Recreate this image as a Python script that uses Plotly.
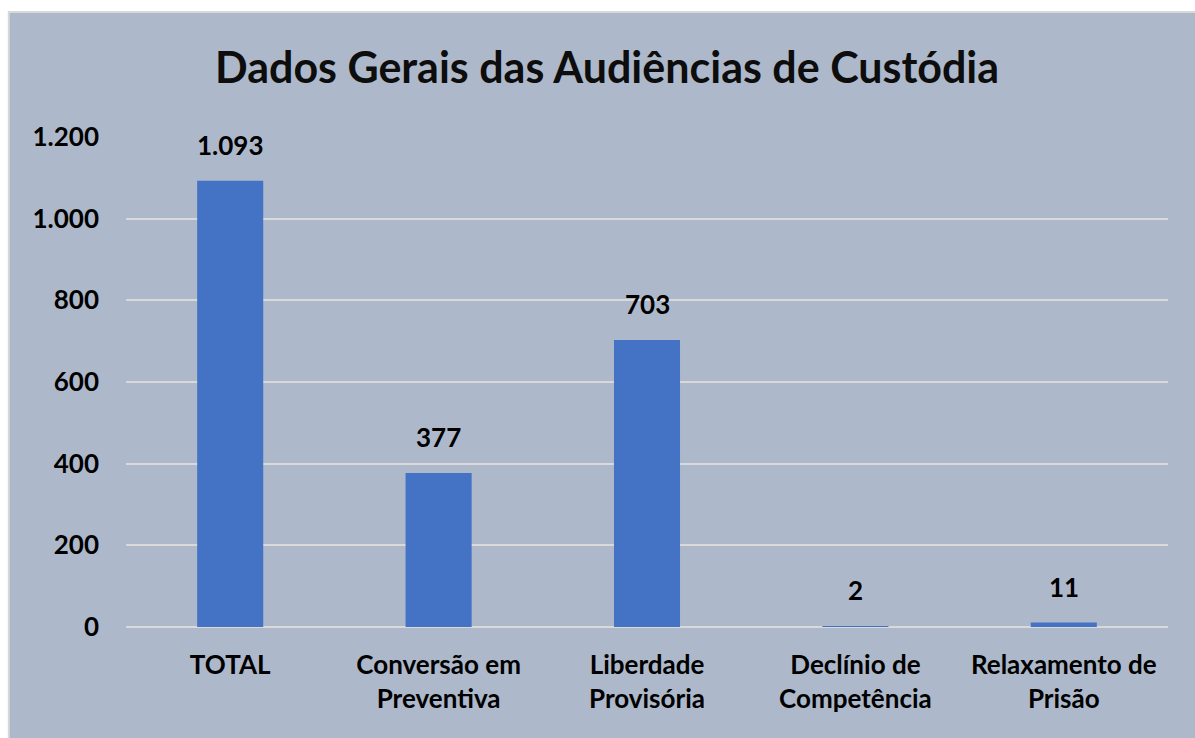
import plotly.graph_objects as go

categories = ["TOTAL", "Conversão em<br>Preventiva", "Liberdade<br>Provisória",
              "Declínio de<br>Competência", "Relaxamento de<br>Prisão"]
values = [1093, 377, 703, 2, 11]
y_ticks = [0, 200, 400, 600, 800, 1000, 1200]

BG = "#adb9ca"
FONT = "Lato"

fig = go.Figure()
fig.add_trace(go.Bar(x=categories, y=values, marker_color="#4472c4",
                     marker_line_width=0, hoverinfo="skip"))

for c, v in zip(categories, values):
    fig.add_annotation(x=c, y=v, text=f"{v:,}".replace(",", "."), showarrow=False,
                       yanchor="bottom", yshift=18,
                       font=dict(family=FONT, size=26, color="#000000", weight="bold"))

fig.add_shape(type="rect", xref="paper", yref="paper",
              x0=-0.1125, x1=1.1, y0=-0.4, y1=1.255,
              fillcolor=BG, line=dict(color="#d9d9d9", width=2), layer="below")

fig.update_layout(
    width=1195, height=738,
    margin=dict(l=126, r=27, t=137, b=111),
    paper_bgcolor="white", plot_bgcolor=BG,
    separators=",.",
    showlegend=False,
    bargap=0.683,
    title=dict(text="<b>Dados Gerais das Audiências de Custódia</b>",
               x=0.508, xanchor="center", y=0.908, yanchor="middle",
               font=dict(family=FONT, size=43, color="#0d0d0d")),
    font=dict(family=FONT, color="#000000"),
)
fig.update_xaxes(showgrid=False, showline=False, zeroline=False,
                 tickfont=dict(family=FONT, size=26, color="#000000", weight="bold"),
                 ticklabelstandoff=20, fixedrange=True)
fig.update_yaxes(range=[0, 1200], tickvals=y_ticks, tickformat=",d",
                 showgrid=True, gridcolor="#d9d9d9", gridwidth=2,
                 zeroline=True, zerolinecolor="#d9d9d9", zerolinewidth=2,
                 showline=False,
                 tickfont=dict(family=FONT, size=26, color="#000000", weight="bold"),
                 ticklabelstandoff=26, fixedrange=True)

fig.write_html("out.html")
